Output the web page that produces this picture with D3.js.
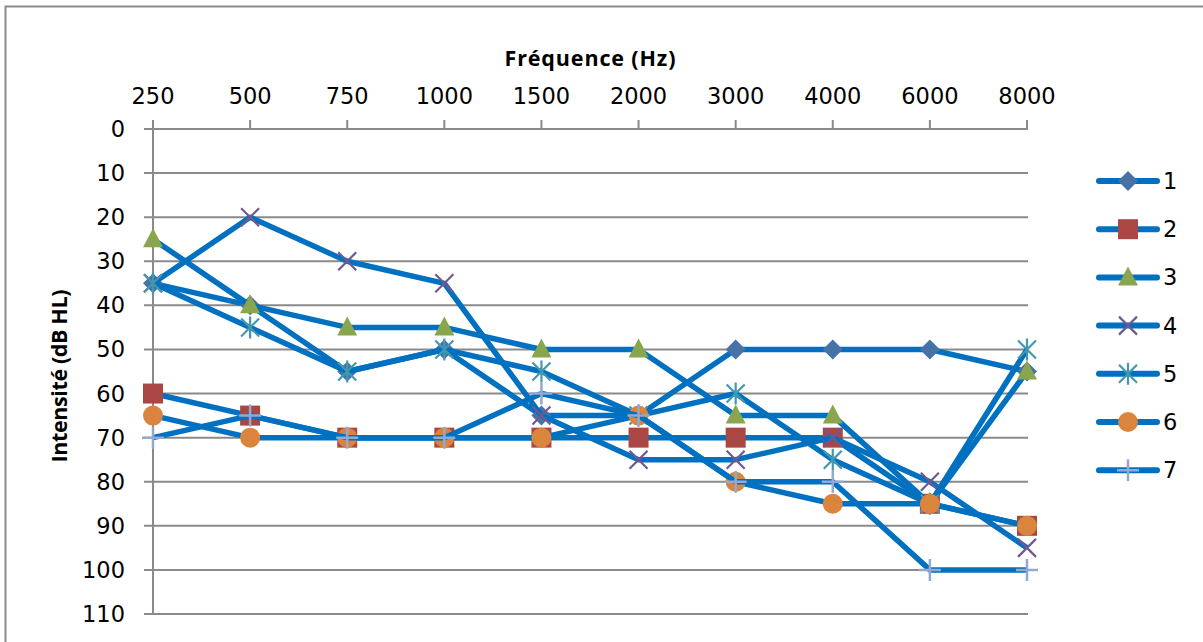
<!DOCTYPE html>
<html>
<head>
<meta charset="utf-8">
<script src="https://cdn.jsdelivr.net/npm/d3@7"></script>
<style>
  body { margin: 0; background: #fff; }
  svg { display: block; }
  text { font-family: "DejaVu Sans", sans-serif; fill: #000; }
</style>
</head>
<body>
<svg id="chart" width="1203" height="642"></svg>
<script>
// frequencies (categories) and hearing thresholds per subject
const frequencies = ["250", "500", "750", "1000", "1500", "2000", "3000", "4000", "6000", "8000"];
const yTicks = [0, 10, 20, 30, 40, 50, 60, 70, 80, 90, 100, 110];
const seriesNames = ["1", "2", "3", "4", "5", "6", "7"];
const s1 = [35, 40, 55, 50, 65, 65, 50, 50, 50, 55];
const s2 = [60, 65, 70, 70, 70, 70, 70, 70, 85, 90];
const s3 = [25, 40, 45, 45, 50, 50, 65, 65, 85, 55];
const s4 = [35, 20, 30, 35, 65, 75, 75, 70, 80, 95];
const s5 = [35, 45, 55, 50, 55, 65, 60, 75, 85, 50];
const s6 = [65, 70, 70, 70, 70, 65, 80, 85, 85, 90];
const s7 = [70, 65, 70, 70, 60, 65, 80, 80, 100, 100];
const allSeries = [s1, s2, s3, s4, s5, s6, s7];

const markerTypes = ["diamond", "square", "triangle", "x", "star", "circle", "plus"];
const markerColors = ["#4672A8", "#AA4643", "#89A54E", "#71588F", "#4198AF", "#DB843D", "#93A9CF"];
const lineColor = "#0070C0";
const gridColor = "#8a8a8a";

const svg = d3.select("#chart");

// outer chart frame (runs off the right and bottom edge)
svg.append("rect")
  .attr("x", 5.5).attr("y", 6.5)
  .attr("width", 1300).attr("height", 700)
  .attr("fill", "none").attr("stroke", gridColor).attr("stroke-width", 2);

const x = d3.scalePoint().domain(frequencies).range([153, 1027]);
const y = d3.scaleLinear().domain([0, 110]).range([129, 614]);

// horizontal gridlines
svg.append("g")
  .selectAll("line")
  .data(yTicks)
  .enter()
  .append("line")
  .attr("x1", 144).attr("x2", 1028)
  .attr("y1", d => y(d)).attr("y2", d => y(d))
  .attr("stroke", gridColor).attr("stroke-width", 2);

// y axis line
svg.append("line")
  .attr("x1", 153).attr("x2", 153)
  .attr("y1", y(0)).attr("y2", y(110))
  .attr("stroke", gridColor).attr("stroke-width", 2);

// x ticks pointing up
svg.append("g")
  .selectAll("line")
  .data(frequencies)
  .enter()
  .append("line")
  .attr("x1", d => x(d)).attr("x2", d => x(d))
  .attr("y1", y(0) - 9).attr("y2", y(0))
  .attr("stroke", gridColor).attr("stroke-width", 2);

// tick labels
svg.append("g")
  .selectAll("text")
  .data(frequencies)
  .enter()
  .append("text")
  .attr("x", d => x(d)).attr("y", 104)
  .attr("text-anchor", "middle")
  .style("font-size", "22.5px")
  .text(d => d);

svg.append("g")
  .selectAll("text")
  .data(yTicks)
  .enter()
  .append("text")
  .attr("x", 125).attr("y", d => y(d) + 8)
  .attr("text-anchor", "end")
  .style("font-size", "22.5px")
  .text(d => d);

// axis titles
svg.append("text")
  .attr("x", 590).attr("y", 66)
  .attr("text-anchor", "middle")
  .attr("textLength", 171)
  .style("font-family", "'Open Sans', sans-serif")
  .style("font-weight", "bold")
  .style("font-size", "21.5px")
  .text("Fréquence (Hz)");

svg.append("text")
  .attr("transform", "translate(67,376) rotate(-90)")
  .attr("text-anchor", "middle")
  .attr("textLength", 173)
  .style("font-family", "'Open Sans', sans-serif")
  .style("font-weight", "bold")
  .style("font-size", "21.5px")
  .text("Intensité (dB HL)");

// marker drawing
function drawMarker(g, type, color) {
  if (type === "diamond") {
    g.append("path").attr("d", "M0,-10L10,0L0,10L-10,0Z").attr("fill", color);
  } else if (type === "square") {
    g.append("rect").attr("x", -10).attr("y", -10).attr("width", 20).attr("height", 20).attr("fill", color);
  } else if (type === "triangle") {
    g.append("path").attr("d", "M0,-11L10,8L-10,8Z").attr("fill", color);
  } else if (type === "circle") {
    g.append("circle").attr("r", 10).attr("fill", color);
  } else if (type === "x") {
    g.append("path").attr("d", "M-9,-9L9,9M-9,9L9,-9").attr("stroke", color).attr("stroke-width", 2.2).attr("fill", "none");
  } else if (type === "star") {
    g.append("path").attr("d", "M-9,-9L9,9M-9,9L9,-9M0,-11L0,11").attr("stroke", color).attr("stroke-width", 2.2).attr("fill", "none");
  } else if (type === "plus") {
    g.append("path").attr("d", "M-11,0L11,0M0,-11L0,11").attr("stroke", color).attr("stroke-width", 2.5).attr("fill", "none");
  }
}

const line = d3.line()
  .x((d, i) => x(frequencies[i]))
  .y(d => y(d));

allSeries.forEach((values, k) => {
  const g = svg.append("g");
  g.append("path")
    .attr("d", line(values))
    .attr("fill", "none")
    .attr("stroke", lineColor)
    .attr("stroke-width", 5.5)
    .attr("stroke-linejoin", "round");
  values.forEach((v, i) => {
    const m = g.append("g").attr("transform", `translate(${x(frequencies[i])},${y(v)})`);
    drawMarker(m, markerTypes[k], markerColors[k]);
  });
});

// legend
const legend = svg.append("g");
seriesNames.forEach((name, k) => {
  const ly = 181 + k * 48.2;
  legend.append("line")
    .attr("x1", 1099).attr("x2", 1157)
    .attr("y1", ly).attr("y2", ly)
    .attr("stroke", lineColor).attr("stroke-width", 6)
    .attr("stroke-linecap", "round");
  const m = legend.append("g").attr("transform", `translate(1128,${ly})`);
  drawMarker(m, markerTypes[k], markerColors[k]);
  legend.append("text")
    .attr("x", 1163).attr("y", ly + 8)
    .style("font-size", "22.5px")
    .text(name);
});
</script>
</body>
</html>
